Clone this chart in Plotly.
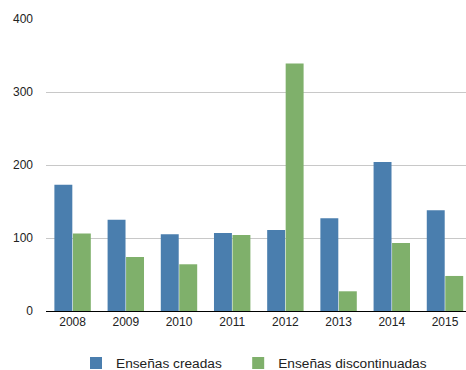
import plotly.graph_objects as go

years = ["2008", "2009", "2010", "2011", "2012", "2013", "2014", "2015"]
creadas = [173, 125, 105, 107, 111, 127, 204, 138]
discontinuadas = [106, 74, 64, 104, 339, 27, 93, 48]
y_ticks = [0, 100, 200, 300, 400]

BLUE = "#4a7eae"
GREEN = "#7fb06b"
FONT = "Liberation Sans, Arial, Helvetica, sans-serif"

fig = go.Figure()
fig.add_trace(go.Bar(x=years, y=creadas, name="Enseñas creadas\u00a0\u00a0\u00a0",
                     marker=dict(color=BLUE, line=dict(width=0))))
fig.add_trace(go.Bar(x=years, y=discontinuadas, name="Enseñas discontinuadas",
                     marker=dict(color=GREEN, line=dict(width=0))))

fig.update_layout(
    width=466, height=370,
    margin=dict(l=46, r=0, t=18.5, b=59.3),
    paper_bgcolor="white", plot_bgcolor="white",
    barmode="group", bargap=0.305, bargroupgap=0.03,
    font=dict(family=FONT, size=12, color="#222222"),
    showlegend=True,
    legend=dict(orientation="h", xref="container", yref="container",
                x=76 / 466, xanchor="left", y=0.019, yanchor="middle",
                font=dict(size=13.7, color="#222222"), itemwidth=30,
                traceorder="normal"),
)
fig.update_xaxes(type="category", range=[-0.5, 7.395], showgrid=False,
                 showline=False, ticks="", tickfont=dict(size=12),
                 ticklabelstandoff=2, fixedrange=True)
fig.update_yaxes(range=[0, 400], tickvals=y_ticks, showgrid=True,
                 gridcolor="#c8c8c8", gridwidth=1, zeroline=True,
                 zerolinecolor="#000000", zerolinewidth=1, showline=False,
                 ticks="", tickfont=dict(size=12), ticklabelstandoff=12,
                 fixedrange=True)

fig.write_html("out.html")
